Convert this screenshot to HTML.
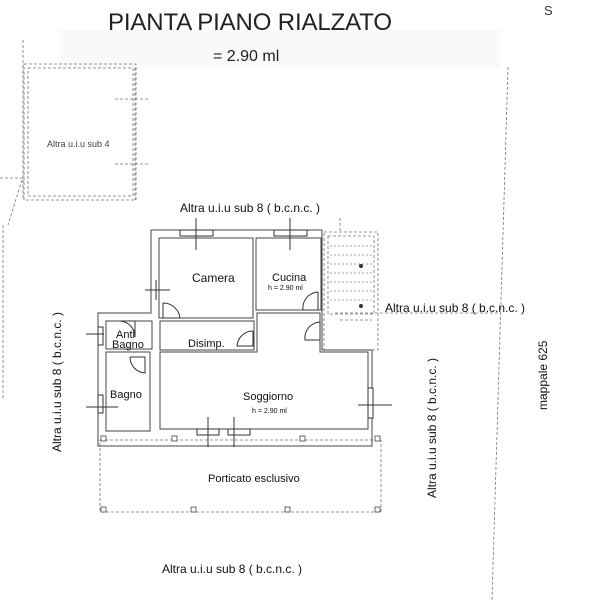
<!DOCTYPE html>
<html><head><meta charset="utf-8"><style>
html,body{margin:0;padding:0;background:#fff;}
svg{display:block;font-family:"Liberation Sans",sans-serif;}
</style></head><body>
<svg width="607" height="600" viewBox="0 0 607 600" xmlns="http://www.w3.org/2000/svg">
<rect width="607" height="600" fill="#fff"/>
<rect x="60" y="30" width="440" height="38" fill="#f5f5f5" opacity="0.6"/>
<text x="108" y="30" font-size="24" textLength="284" fill="#222">PIANTA PIANO RIALZATO</text>
<text x="213" y="61" font-size="16" fill="#222">= 2.90 ml</text>
<text x="544" y="15" font-size="13" fill="#333">S</text>

<g fill="none" stroke="#777" stroke-width="0.8" stroke-dasharray="3,2">
  <rect x="24" y="64" width="112" height="136"/>
  <rect x="28" y="68" width="105" height="128" />
  <line x1="23" y1="40" x2="23" y2="200"/>
  <line x1="135" y1="68" x2="135" y2="200"/>
  <line x1="115" y1="99" x2="150" y2="99"/>
  <line x1="115" y1="164" x2="150" y2="164"/>
  <line x1="0" y1="178" x2="24" y2="178"/>
  <line x1="22" y1="180" x2="8" y2="225"/>
  <line x1="3" y1="225" x2="3" y2="400"/>
  <line x1="508" y1="67" x2="492" y2="600"/>
  <line x1="340" y1="218" x2="340" y2="232"/>
  <rect x="100" y="440" width="281" height="72"/>
  <rect x="324" y="232" width="54" height="118"/>
  <rect x="328" y="236" width="46" height="78"/>
  <line x1="335" y1="313" x2="500" y2="313"/>
  <line x1="340" y1="320" x2="372" y2="320"/>
</g>
<g stroke="#888" stroke-width="0.7" stroke-dasharray="2,2">
  <line x1="330" y1="246" x2="372" y2="246"/><line x1="330" y1="255" x2="372" y2="255"/>
  <line x1="330" y1="264" x2="372" y2="264"/><line x1="330" y1="273" x2="372" y2="273"/>
  <line x1="330" y1="282" x2="372" y2="282"/><line x1="330" y1="291" x2="372" y2="291"/>
  <line x1="330" y1="300" x2="372" y2="300"/>
</g>
<circle cx="361" cy="266" r="2" fill="#333"/><circle cx="361" cy="306" r="2" fill="#333"/>

<text x="47" y="147" font-size="9" fill="#444">Altra u.i.u sub 4</text>

<g fill="none" stroke="#444" stroke-width="1">
  <polygon points="151,230 322,230 322,350 372,350 372,446 98,446 98,313 151,313"/>
  <rect x="159" y="238" width="94" height="80"/>
  <rect x="256" y="238" width="65" height="72"/>
  <rect x="160" y="321" width="94" height="29"/>
  <rect x="106" y="321" width="46" height="28"/>
  <rect x="106" y="352" width="44" height="79"/>
  <polygon points="257,313 320,313 320,352 368,352 368,429 160,429 160,352 257,352"/>
</g>
<g stroke="#333" stroke-width="1">
  <rect x="180" y="230" width="33" height="6" fill="#fff"/>
  <rect x="274" y="230" width="33" height="6" fill="#fff"/>
  <line x1="196" y1="218" x2="196" y2="250"/><line x1="290" y1="218" x2="290" y2="250"/>
  <rect x="98" y="327" width="5" height="18" fill="#fff"/>
  <rect x="98" y="395" width="5" height="18" fill="#fff"/>
  <line x1="86" y1="334" x2="104" y2="334"/><line x1="86" y1="407" x2="118" y2="407"/>
  <rect x="368" y="388" width="5" height="30" fill="#fff"/>
  <line x1="358" y1="405" x2="392" y2="405"/>
  <rect x="197" y="429" width="22" height="6" fill="#fff"/>
  <rect x="228" y="429" width="22" height="6" fill="#fff"/>
  <line x1="208" y1="417" x2="208" y2="447"/><line x1="234" y1="417" x2="234" y2="447"/>
  <line x1="145" y1="290" x2="170" y2="290"/><line x1="156" y1="280" x2="156" y2="300"/>
</g>
<g fill="none" stroke="#333" stroke-width="1">
  <path d="M163,303 L163,318 L180,318 A17,17 0 0 0 163,303"/>
  <path d="M120,321 L135,321 L135,337 A16,16 0 0 0 120,321"/>
  <path d="M130,357 L145,357 L145,373 A16,16 0 0 1 130,357"/>
  <path d="M253,331 L253,346 L237,346 A16,16 0 0 1 253,331"/>
  <path d="M318,292 L318,310 L303,310 A16,16 0 0 1 318,292"/>
  <path d="M320,322 L320,340 L305,340 A16,16 0 0 1 320,322"/>
</g>
<g fill="#fff" stroke="#444" stroke-width="0.8">
  <rect x="101" y="436" width="5" height="5"/><rect x="172" y="436" width="5" height="5"/>
  <rect x="300" y="436" width="5" height="5"/><rect x="375" y="436" width="5" height="5"/>
  <rect x="101" y="507" width="5" height="5"/><rect x="191" y="507" width="5" height="5"/>
  <rect x="285" y="507" width="5" height="5"/><rect x="375" y="507" width="5" height="5"/>
</g>

<g fill="#111">
<text x="180" y="212" font-size="12">Altra u.i.u sub 8 ( b.c.n.c. )</text>
<text x="385" y="312" font-size="12">Altra u.i.u sub 8 ( b.c.n.c. )</text>
<text x="162" y="573" font-size="12">Altra u.i.u sub 8 ( b.c.n.c. )</text>
<text transform="translate(61,452) rotate(-90)" font-size="12">Altra u.i.u sub 8 ( b.c.n.c. )</text>
<text transform="translate(436,498) rotate(-90)" font-size="12">Altra u.i.u sub 8 ( b.c.n.c. )</text>
<text transform="translate(547,410) rotate(-90)" font-size="12">mappale 625</text>
<text x="192" y="282" font-size="12">Camera</text>
<text x="272" y="281" font-size="11">Cucina</text>
<text x="268" y="290" font-size="7">h = 2.90 ml</text>
<text x="116" y="338" font-size="11">Anti</text>
<text x="112" y="348" font-size="11">Bagno</text>
<text x="188" y="347" font-size="11">Disimp.</text>
<text x="110" y="398" font-size="11">Bagno</text>
<text x="243" y="400" font-size="11">Soggiorno</text>
<text x="252" y="413" font-size="7">h = 2.90 ml</text>
<text x="208" y="482" font-size="11">Porticato esclusivo</text>
</g>
</svg>
</body></html>
